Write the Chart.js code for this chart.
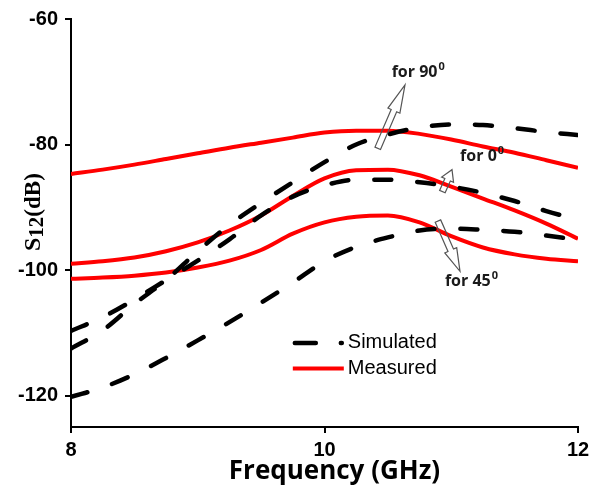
<!DOCTYPE html>
<html>
<head>
<meta charset="utf-8">
<script src="https://cdn.jsdelivr.net/npm/chart.js@4.4.0/dist/chart.umd.min.js"></script>
<style>
	html, body { margin: 0; padding: 0; background: #fff; }
	#box { width: 602px; height: 491px; }
</style>
</head>
<body>
<div id="box"><canvas id="s12"></canvas></div>
<script>
	// frequencia (GHz)
	var freq = [8, 8.25, 8.5, 8.75, 9, 9.25, 9.5, 9.75, 10, 10.25, 10.5, 10.75, 11, 11.25, 11.5, 11.75, 12];

	// medido
	var med90 = [-84.7, -84.0, -83.2, -82.3, -81.4, -80.5, -79.7, -78.9, -78.1, -77.8, -77.8, -78.3, -79.2, -80.3, -81.3, -82.5, -83.7];
	var med0 = [-99.0, -98.6, -98.0, -97.0, -95.6, -93.7, -91.3, -88.2, -85.4, -84.1, -84.0, -84.9, -86.7, -88.6, -90.5, -92.6, -95.0];
	var med45 = [-101.4, -101.2, -100.9, -100.4, -99.6, -98.5, -96.8, -94.2, -92.4, -91.5, -91.3, -92.4, -94.6, -96.4, -97.5, -98.2, -98.6];

	// simulado
	var sim90 = [-112.5, -109.6, -105.4, -101.6, -97.0, -92.8, -89.3, -86.0, -82.8, -80.0, -78.4, -77.3, -76.8, -76.9, -77.4, -78.0, -78.5];
	var sim0 = [-109.7, -107.5, -104.7, -101.6, -98.5, -95.1, -91.3, -88.3, -86.5, -85.6, -85.6, -86.0, -86.7, -87.7, -89.0, -90.6, -92.0];
	var sim45 = [-120.2, -118.7, -116.6, -114.0, -111.2, -108.3, -105.2, -102.0, -98.6, -96.3, -94.8, -93.7, -93.4, -93.6, -93.9, -94.5, -95.2];

	var xTicks = [8, 10, 12];
	var yTicks = [-60, -80, -100, -120];

	var legendLabels = ["Simulated", "Measured"];

	// setas: [x cauda, y cauda, x ponta, y ponta, comprimento da cabeça em px]
	var setas = [
		[10.42, -80.6, 10.635, -70.5, 28],
		[10.93, -87.5, 11.006, -84.0, 11],
		[10.895, -92.2, 11.069, -100.2, 23]
	];
	// rótulos: [texto, expoente, x, y]
	var rotulos = [
		["for 90", "0", 10.53, -69.2],
		["for 0", "0", 11.07, -82.6],
		["for 45", "0", 10.95, -102.5]
	];

	toPts = (ys) => ys.map((y, i) => ({ x: freq[i], y: y }));

	simulado = (ys) => ({
		data: toPts(ys),
		borderColor: '#000',
		borderWidth: 4.5,
		borderDash: [17, 26],
		borderCapStyle: 'round',
		pointRadius: 0,
		cubicInterpolationMode: 'monotone',
		fill: false
	});

	medido = (ys) => ({
		data: toPts(ys),
		borderColor: '#ff0000',
		borderWidth: 4,
		pointRadius: 0,
		cubicInterpolationMode: 'monotone',
		fill: false
	});

	desenharSeta = (ctx, x0, y0, x1, y1, hl) => {
		let dx = x1 - x0, dy = y1 - y0;
		let len = Math.sqrt(dx * dx + dy * dy);
		let ux = dx / len, uy = dy / len;
		let nx = -uy, ny = ux;
		let hw = 6.5, sw = 3;
		let bx = x1 - ux * hl, by = y1 - uy * hl;
		ctx.beginPath();
		ctx.moveTo(x0 + nx * sw, y0 + ny * sw);
		ctx.lineTo(bx + nx * sw, by + ny * sw);
		ctx.lineTo(bx + nx * hw, by + ny * hw);
		ctx.lineTo(x1, y1);
		ctx.lineTo(bx - nx * hw, by - ny * hw);
		ctx.lineTo(bx - nx * sw, by - ny * sw);
		ctx.lineTo(x0 - nx * sw, y0 - ny * sw);
		ctx.closePath();
		ctx.strokeStyle = '#555';
		ctx.lineWidth = 1.2;
		ctx.stroke();
	}

	var extras = {
		id: 'extras',
		afterDatasetsDraw: (chart) => {
			let ctx = chart.ctx;
			let xs = chart.scales.x, ys = chart.scales.y;
			let area = chart.chartArea;
			ctx.save();

			// setas
			for (let s of setas) {
				desenharSeta(ctx, xs.getPixelForValue(s[0]), ys.getPixelForValue(s[1]), xs.getPixelForValue(s[2]), ys.getPixelForValue(s[3]), s[4]);
			}

			// rótulos das setas
			ctx.fillStyle = '#1a1a1a';
			ctx.textBaseline = 'alphabetic';
			ctx.textAlign = 'left';
			for (let r of rotulos) {
				let px = xs.getPixelForValue(r[2]), py = ys.getPixelForValue(r[3]);
				ctx.font = 'bold 16px "Open Sans"';
				ctx.fillText(r[0], px, py);
				let w = ctx.measureText(r[0]).width;
				ctx.font = 'bold 11px "Open Sans"';
				ctx.fillText(r[1], px + w + 1, py - 7);
			}

			// legenda
			let lx = xs.getPixelForValue(9.75);
			let ly1 = ys.getPixelForValue(-111.6);
			let ly2 = ys.getPixelForValue(-115.7);
			ctx.lineWidth = 4.5;
			ctx.strokeStyle = '#000';
			ctx.lineCap = 'round';
			ctx.setLineDash([21, 25]);
			ctx.beginPath();
			ctx.moveTo(lx + 2, ly1);
			ctx.lineTo(lx + 49, ly1);
			ctx.stroke();
			ctx.setLineDash([]);
			ctx.lineCap = 'butt';
			ctx.lineWidth = 4;
			ctx.strokeStyle = '#ff0000';
			ctx.beginPath();
			ctx.moveTo(lx, ly2);
			ctx.lineTo(lx + 51, ly2);
			ctx.stroke();
			ctx.fillStyle = '#000';
			ctx.font = '20px "Liberation Sans"';
			ctx.textBaseline = 'middle';
			ctx.fillText(legendLabels[0], lx + 55, ly1);
			ctx.fillText(legendLabels[1], lx + 55, ly2);

			// títulos dos eixos
			ctx.font = 'bold 26px "Open Sans"';
			ctx.textAlign = 'center';
			ctx.textBaseline = 'alphabetic';
			ctx.fillText('Frequency (GHz)', (area.left + area.right) / 2 + 10, 479);

			ctx.translate(40, 251);
			ctx.rotate(-Math.PI / 2);
			ctx.textAlign = 'left';
			ctx.font = 'bold 24px "Liberation Serif"';
			ctx.fillText('S', 0, 0);
			let ws = ctx.measureText('S').width;
			ctx.font = 'bold 21px "Liberation Serif"';
			ctx.fillText('12', ws, 3);
			let w12 = ctx.measureText('12').width;
			ctx.font = 'bold 23px "Liberation Serif"';
			ctx.fillText('(dB)', ws + w12, 0);
			ctx.restore();
		}
	};

	var grafico = new Chart(document.getElementById('s12'), {
		type: 'line',
		data: {
			datasets: [
				simulado(sim90), simulado(sim0), simulado(sim45),
				medido(med90), medido(med0), medido(med45)
			]
		},
		options: {
			responsive: true,
			maintainAspectRatio: false,
			animation: false,
			layout: { padding: { top: 17, right: 24, left: 0, bottom: 0 } },
			plugins: { legend: { display: false }, tooltip: { enabled: false } },
			scales: {
				x: {
					type: 'linear',
					min: 8,
					max: 12,
					afterBuildTicks: (s) => { s.ticks = xTicks.map(v => ({ value: v })); },
					afterFit: (s) => { s.height = 64; },
					grid: { drawOnChartArea: false, drawTicks: true, tickLength: 6, color: '#000', lineWidth: 2 },
					border: { display: true, color: '#000', width: 2 },
					ticks: { color: '#000', font: { family: 'Liberation Sans', weight: 'bold', size: 20 }, padding: 5, maxRotation: 0 }
				},
				y: {
					type: 'linear',
					min: -125,
					max: -60,
					afterBuildTicks: (s) => { s.ticks = yTicks.map(v => ({ value: v })); },
					afterFit: (s) => { s.width = 71; },
					grid: { drawOnChartArea: false, drawTicks: true, tickLength: 6, color: '#000', lineWidth: 2 },
					border: { display: true, color: '#000', width: 2 },
					ticks: { color: '#000', font: { family: 'Liberation Sans', weight: 'bold', size: 20 }, padding: 7 }
				}
			}
		},
		plugins: [extras]
	});
</script>
</body>
</html>
